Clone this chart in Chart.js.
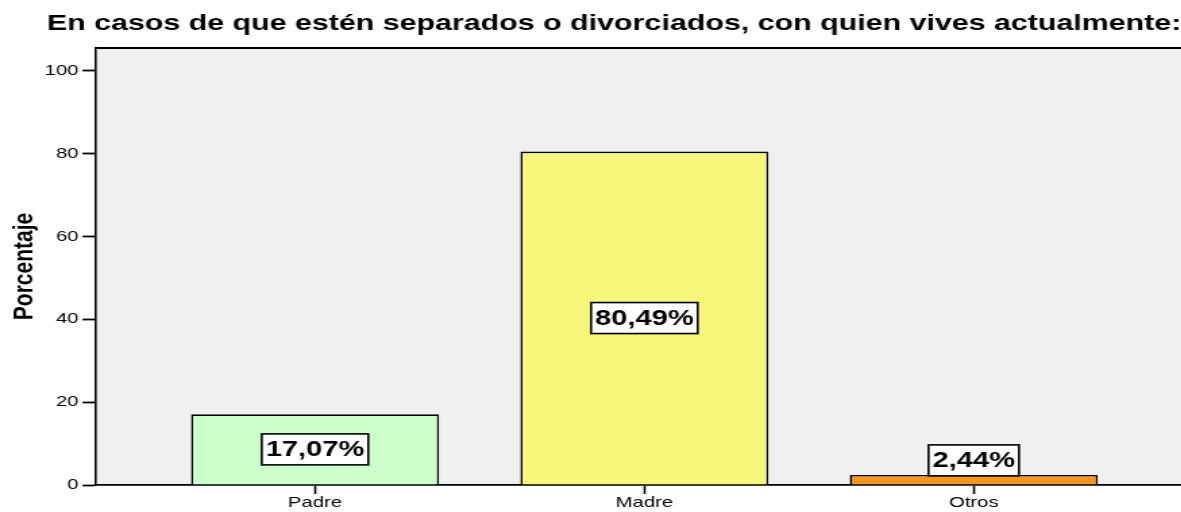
<!DOCTYPE html>
<html>
<head>
<meta charset="utf-8">
<script src="https://cdn.jsdelivr.net/npm/chart.js@4"></script>
<style>
  html, body { margin: 0; padding: 0; background: #fff; overflow: hidden; }
  #wrap { width: 875px; height: 512px; transform: scaleX(1.35); transform-origin: 0 0; }
</style>
</head>
<body>
<div id="wrap"><canvas id="barChart" width="875" height="512"></canvas></div>
<script>
const chartTitle = 'En casos de que estén separados o divorciados, con quien vives actualmente:';
const categories = ['Padre', 'Madre', 'Otros'];
const percentages = [17.07, 80.49, 2.44];
const barColors = ['#ccffcc', '#f9f77a', '#f7961e'];
const yTicks = [0, 20, 40, 60, 80, 100];

// grey plot background and the frame line on top
const plotFrame = {
  id: 'plotFrame',
  beforeDraw(chart) {
    const { ctx, chartArea: a } = chart;
    ctx.save();
    ctx.fillStyle = '#f0f0f0';
    ctx.fillRect(a.left, a.top, a.right - a.left, a.bottom - a.top);
    ctx.restore();
  },
  afterDraw(chart) {
    const { ctx, chartArea: a } = chart;
    ctx.save();
    ctx.strokeStyle = '#000';
    ctx.lineWidth = 1.8;
    ctx.beginPath();
    ctx.moveTo(a.left, a.top);
    ctx.lineTo(a.right, a.top);
    ctx.stroke();
    ctx.restore();
  }
};

// value labels in white boxes
const boxLabels = {
  id: 'boxLabels',
  afterDatasetsDraw(chart) {
    const { ctx } = chart;
    const meta = chart.getDatasetMeta(0);
    ctx.save();
    ctx.font = 'bold 21.5px Arial, "Liberation Sans", sans-serif';
    ctx.textAlign = 'center';
    ctx.textBaseline = 'middle';
    meta.data.forEach((bar, i) => {
      const text = percentages[i].toFixed(2).replace('.', ',') + '%';
      const w = ctx.measureText(text).width + 6;
      const h = 31;
      let cy = (bar.y + bar.base) / 2;
      if (bar.base - bar.y < h + 4) cy = bar.y - h / 2 + 1;
      ctx.fillStyle = '#fff';
      ctx.fillRect(bar.x - w / 2, cy - h / 2, w, h);
      ctx.strokeStyle = '#000';
      ctx.lineWidth = 1.6;
      ctx.strokeRect(bar.x - w / 2, cy - h / 2, w, h);
      ctx.fillStyle = '#000';
      ctx.fillText(text, bar.x, cy + 1);
    });
    ctx.restore();
  }
};

new Chart(document.getElementById('barChart'), {
  type: 'bar',
  data: {
    datasets: [{
      data: percentages.map((v, i) => ({ x: i, y: v })),
      backgroundColor: barColors,
      borderColor: '#000',
      borderWidth: 1.6,
      borderSkipped: 'bottom',
      barPercentage: 0.753,
      categoryPercentage: 1
    }]
  },
  plugins: [plotFrame, boxLabels],
  options: {
    responsive: false,
    animation: false,
    layout: { padding: 0 },
    plugins: {
      legend: { display: false },
      tooltip: { enabled: false },
      title: {
        display: true,
        text: chartTitle,
        align: 'end',
        color: '#000',
        font: { family: 'Arial, "Liberation Sans", sans-serif', size: 22.5, weight: 'bold' },
        padding: { top: 10, bottom: 11 }
      }
    },
    scales: {
      x: {
        type: 'linear',
        offset: false,
        min: -0.665,
        max: 2.63,
        afterBuildTicks: axis => { axis.ticks = categories.map((c, i) => ({ value: i })); },
        ticks: {
          callback: (v) => categories[v],
          color: '#000',
          padding: 0,
          maxRotation: 0,
          font: { family: 'Arial, "Liberation Sans", sans-serif', size: 15 }
        },
        grid: { display: true, offset: false, drawOnChartArea: false, tickLength: 9, tickColor: '#000', tickWidth: 1.6 },
        border: { display: true, color: '#000', width: 1.8 }
      },
      y: {
        min: 0,
        max: 105.5,
        afterBuildTicks: axis => { axis.ticks = yTicks.map(v => ({ value: v })); },
        afterFit: axis => { axis.width = 71.1; },
        ticks: {
          color: '#000',
          padding: 3,
          font: { family: 'Arial, "Liberation Sans", sans-serif', size: 15 }
        },
        grid: { display: true, drawOnChartArea: false, tickLength: 10, tickColor: '#000', tickWidth: 1.8 },
        border: { display: true, color: '#000', width: 1.6 },
        title: {
          display: true,
          text: 'Porcentaje',
          color: '#000',
          padding: { top: 6, bottom: 0 },
          font: { family: 'Arial, "Liberation Sans", sans-serif', size: 21, weight: 'bold' }
        }
      }
    }
  }
});
</script>
</body>
</html>
